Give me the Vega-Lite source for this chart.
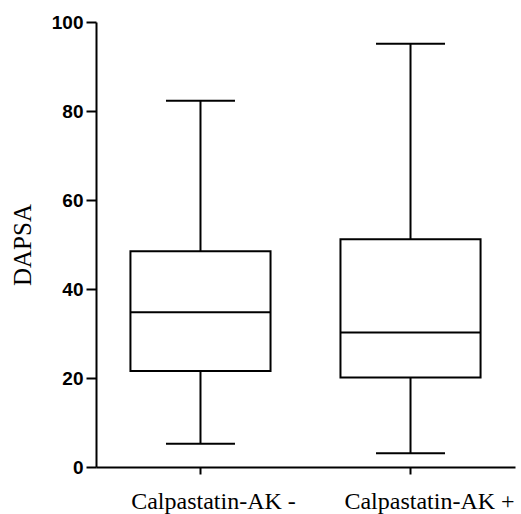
{
  "$schema": "https://vega.github.io/schema/vega-lite/v6.json",
  "autosize": "none",
  "width": 419,
  "height": 445,
  "padding": {"left": 96, "top": 22, "right": 6, "bottom": 47},
  "background": "white",
  "data": {
    "values": [
      {"group": "Calpastatin-AK -", "lower": 5.2, "q1": 21.6, "median": 34.8, "q3": 48.5, "upper": 82.3},
      {"group": "Calpastatin-AK +", "lower": 3.1, "q1": 20.1, "median": 30.2, "q3": 51.2, "upper": 95.1}
    ]
  },
  "encoding": {
    "x": {
      "field": "group",
      "type": "nominal",
      "sort": null,
      "scale": {"paddingInner": 0.333, "paddingOuter": 0.164},
      "axis": {
        "title": null,
        "labelAngle": 0,
        "labelOffset": {"condition": {"test": "datum.value === 'Calpastatin-AK +'", "value": 19}, "value": 13}
      }
    }
  },
  "layer": [
    {
      "mark": {"type": "rule", "color": "black", "strokeWidth": 2},
      "encoding": {
        "y": {
          "field": "lower",
          "type": "quantitative",
          "scale": {"domain": [0, 100], "nice": false},
          "axis": {"title": "DAPSA", "values": [0, 20, 40, 60, 80, 100]}
        },
        "y2": {"field": "upper"}
      }
    },
    {
      "mark": {"type": "bar", "fill": "white", "stroke": "black", "strokeWidth": 2},
      "encoding": {
        "y": {"field": "q1", "type": "quantitative"},
        "y2": {"field": "q3"}
      }
    },
    {
      "mark": {"type": "tick", "color": "black", "opacity": 1, "size": 140, "thickness": 2},
      "encoding": {"y": {"field": "median", "type": "quantitative"}}
    },
    {
      "mark": {"type": "tick", "color": "black", "opacity": 1, "size": 69, "thickness": 2},
      "encoding": {"y": {"field": "lower", "type": "quantitative"}}
    },
    {
      "mark": {"type": "tick", "color": "black", "opacity": 1, "size": 69, "thickness": 2},
      "encoding": {"y": {"field": "upper", "type": "quantitative"}}
    }
  ],
  "config": {
    "view": {"stroke": null},
    "axis": {
      "grid": false,
      "domainColor": "black",
      "domainWidth": 2,
      "tickColor": "black",
      "tickWidth": 2,
      "labelColor": "black"
    },
    "axisX": {
      "labelFont": "Times New Roman",
      "labelFontSize": 24,
      "labelFontWeight": "normal",
      "labelPadding": 15,
      "labelLimit": 300,
      "tickSize": 7
    },
    "axisY": {
      "labelFont": "Liberation Sans",
      "labelFontSize": 19,
      "labelFontWeight": "bold",
      "labelPadding": 3,
      "tickSize": 10,
      "titleFont": "Times New Roman",
      "titleFontSize": 25,
      "titleFontWeight": "normal",
      "titleColor": "black",
      "titlePadding": 16
    }
  }
}
